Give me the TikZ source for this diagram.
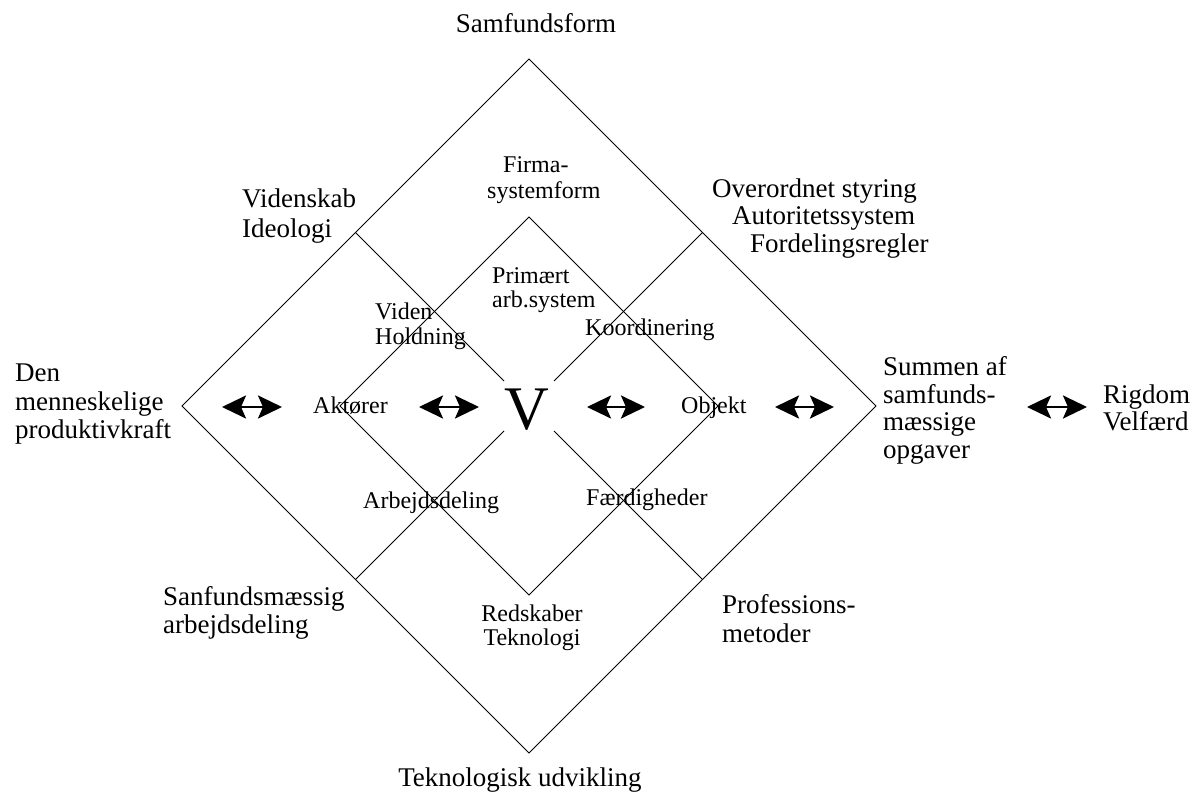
\documentclass[tikz,border=0pt]{standalone}
\usepackage{fontspec}
\setmainfont{Liberation Serif}
\usetikzlibrary{arrows.meta}

\begin{document}
\begin{tikzpicture}[x=1pt,y=-1pt,
  edge/.style={line width=0.9pt},
  outerlbl/.style={font=\fontsize{27}{30}\selectfont, inner sep=0pt, anchor=base west},
  innerlbl/.style={font=\fontsize{24}{27}\selectfont, inner sep=0pt, anchor=base west},
  dbl/.style={line width=2.8pt,
    {Stealth[length=24pt,width=23pt,inset=5pt]}-{Stealth[length=24pt,width=23pt,inset=5pt]}}]

\useasboundingbox (0,0) rectangle (1201,794);

% centre and the two squares
\coordinate (C) at (529,406);
\coordinate (OT) at (529,59);
\coordinate (OR) at (876,406);
\coordinate (OB) at (529,753);
\coordinate (OL) at (182,406);
\coordinate (IT) at (529,217);
\coordinate (IR) at (718,406);
\coordinate (IB) at (529,595);
\coordinate (IL) at (340,406);
\draw[edge] (OT) -- (OR) -- (OB) -- (OL) -- cycle;
\draw[edge] (IT) -- (IR) -- (IB) -- (IL) -- cycle;

% cross lines between the edge midpoints, broken around the centre
\coordinate (MTL) at (355.5,232.5);
\coordinate (MTR) at (702.5,232.5);
\coordinate (MBL) at (355.5,579.5);
\coordinate (MBR) at (702.5,579.5);
\coordinate (GTL) at (504,381);
\coordinate (GTR) at (554,381);
\coordinate (GBL) at (504,431);
\coordinate (GBR) at (554,431);
\draw[edge] (MTL) -- (GTL);
\draw[edge] (MTR) -- (GTR);
\draw[edge] (MBL) -- (GBL);
\draw[edge] (MBR) -- (GBR);

\node[font=\fontsize{62}{62}\selectfont, inner sep=0pt, anchor=base] (V) at (527,429) {V};

% outer labels
\node[outerlbl, anchor=base] (samf) at (536,33) {Samfundsform};
\node[outerlbl] (vid1) at (242,208) {Videnskab};
\node[outerlbl] (vid2) at (242,237) {Ideologi};
\node[outerlbl] (ov1) at (712,198) {Overordnet styring};
\node[outerlbl] (ov2) at (732,225) {Autoritetssystem};
\node[outerlbl] (ov3) at (750,253) {Fordelingsregler};
\node[outerlbl] (den1) at (15,381) {Den};
\node[outerlbl] (den2) at (15,410) {menneskelige};
\node[outerlbl] (den3) at (15,438) {produktivkraft};
\node[outerlbl] (sum1) at (883,375) {Summen af};
\node[outerlbl] (sum2) at (883,403) {samfunds-};
\node[outerlbl] (sum3) at (883,430) {mæssige};
\node[outerlbl] (sum4) at (883,458) {opgaver};
\node[outerlbl] (rig1) at (1103,403) {Rigdom};
\node[outerlbl] (rig2) at (1103,430) {Velfærd};
\node[outerlbl] (san1) at (163,605) {Sanfundsmæssig};
\node[outerlbl] (san2) at (163,633) {arbejdsdeling};
\node[outerlbl] (pro1) at (722,613) {Professions-};
\node[outerlbl] (pro2) at (722,642) {metoder};
\node[outerlbl, anchor=base] (tek) at (520,786) {Teknologisk udvikling};

% inner labels
\node[innerlbl] (fir1) at (503,173) {Firma-};
\node[innerlbl] (fir2) at (487,199) {systemform};
\node[innerlbl] (pri1) at (492,283) {Primært};
\node[innerlbl] (pri2) at (492,307) {arb.system};
\node[innerlbl] (vh1) at (375,319) {Viden};
\node[innerlbl] (vh2) at (375,344) {Holdning};
\node[innerlbl] (koo) at (585,335) {Koordinering};
\node[innerlbl] (akt) at (313,413) {Aktører};
\node[innerlbl] (obj) at (681,413) {Objekt};
\node[innerlbl] (arb) at (363,508) {Arbejdsdeling};
\node[innerlbl] (fae) at (586,505) {Færdigheder};
\node[innerlbl, anchor=base] (red1) at (532,621) {Redskaber};
\node[innerlbl, anchor=base] (red2) at (532,645) {Teknologi};

% double arrows along the middle row
\coordinate (a1l) at (222,407); \coordinate (a1r) at (282,407);
\coordinate (a2l) at (419,407); \coordinate (a2r) at (479,407);
\coordinate (a3l) at (587,407); \coordinate (a3r) at (645,407);
\coordinate (a4l) at (775,407); \coordinate (a4r) at (834,407);
\coordinate (a5l) at (1027,407); \coordinate (a5r) at (1087,407);
\draw[dbl] (a1l) -- (a1r);
\draw[dbl] (a2l) -- (a2r);
\draw[dbl] (a3l) -- (a3r);
\draw[dbl] (a4l) -- (a4r);
\draw[dbl] (a5l) -- (a5r);
\end{tikzpicture}
\end{document}
